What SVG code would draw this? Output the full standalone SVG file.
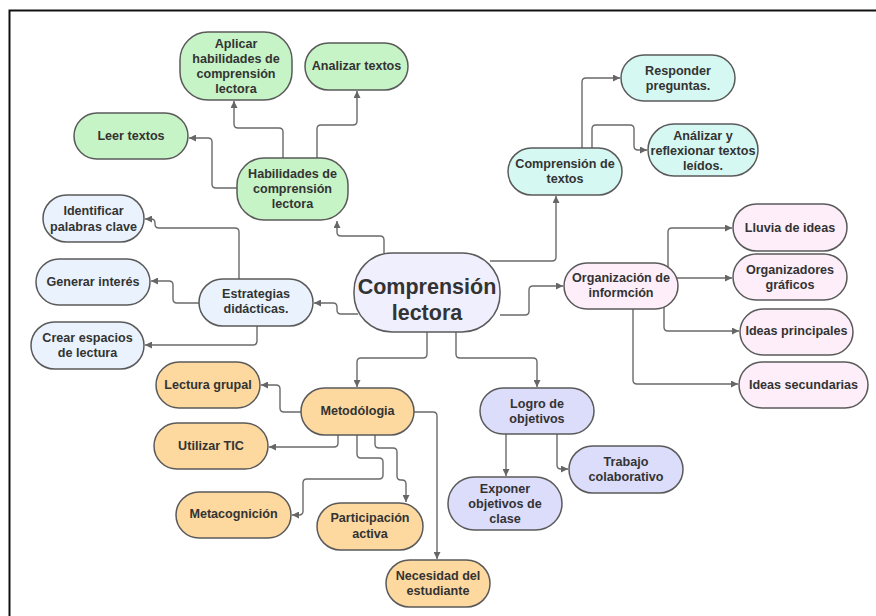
<svg xmlns="http://www.w3.org/2000/svg" width="876" height="616" viewBox="0 0 876 616">
<style>
.n{stroke:#5a5a5a;stroke-width:1.5}
.t{font-family:"Liberation Sans",Arial,sans-serif;font-weight:bold;font-size:12.6px;fill:#333;text-anchor:middle}
.big{font-size:21.5px}
.c{fill:none;stroke:#6a6a6a;stroke-width:1.4}
.g{fill:#c7f4c6}.tl{fill:#d6f8f2}.pk{fill:#fdeef9}.bl{fill:#eaf3fd}.ct{fill:#efeffd}.lv{fill:#dcdcfb}.or{fill:#fdd9a0}
</style>
<defs>
<marker id="a" viewBox="0 0 10 10" refX="10" refY="5" markerWidth="8" markerHeight="7" orient="auto" markerUnits="userSpaceOnUse"><path d="M0,0 L10,5 L0,10 z" fill="#666"/></marker>
</defs>
<rect width="876" height="616" fill="#fff"/>
<path d="M9.5,616 V10.5 H876" fill="none" stroke="#111" stroke-width="2"/>
<g id="connectors" class="c" marker-end="url(#a)">
<path d="M384,253 V240 Q384,236 380,236 H341 Q337,236 337,232 V221"/>
<path d="M358,314 H341 Q337,314 337,310 V307 Q337,303 333,303 H314"/>
<path d="M490,261 H552 Q556,261 556,257 V196"/>
<path d="M500,315 H525 Q529,315 529,311 V290 Q529,286 533,286 H563"/>
<path d="M427,332 V354 Q427,358 423,358 H361 Q357,358 357,362 V387"/>
<path d="M456,332 V354 Q456,358 460,358 H533 Q537,358 537,362 V387"/>
<path d="M237,188 H216 Q212,188 212,184 V142 Q212,138 208,138 H189"/>
<path d="M283,158 V132 Q283,128 279,128 H238 Q234,128 234,124 V101"/>
<path d="M317,158 V129 Q317,125 321,125 H353 Q357,125 357,121 V91"/>
<path d="M239,279 V232 Q239,228 235,228 H159 Q155,228 155,224 V223 Q155,219 151,219 H145"/>
<path d="M199,303 H177 Q173,303 173,299 V285 Q173,281 169,281 H151"/>
<path d="M257,326 V341 Q257,345 253,345 H145"/>
<path d="M582,148 V82 Q582,78 586,78 H620"/>
<path d="M592,148 V129 Q592,125 596,125 H630 Q634,125 634,129 V146 Q634,150 638,150 H647"/>
<path d="M668,267 V232 Q668,228 672,228 H732"/>
<path d="M677,278 H732"/>
<path d="M664,307 V327 Q664,331 668,331 H739"/>
<path d="M633,309 V380 Q633,384 637,384 H738"/>
<path d="M506,434 V476"/>
<path d="M557,434 V465 Q557,469 561,469 H568"/>
<path d="M301,412 H284 Q280,412 280,408 V389 Q280,385 276,385 H261"/>
<path d="M338,435 V443 Q338,447 334,447 H269"/>
<path d="M357,435 V454 Q357,458 361,458 H379 Q383,458 383,462 V475 Q383,479 379,479 H307 Q303,479 303,483 V511 Q303,515 299,515 H292"/>
<path d="M375,435 V444 Q375,448 379,448 H393 Q397,448 397,452 V476 Q397,480 401,480 H402 Q406,480 406,484 V502"/>
<path d="M414,412 H433 Q437,412 437,416 V559"/>
</g>
<g id="n-central"><rect class="n ct" x="354" y="253" width="146" height="79" rx="38"/><text class="t big" x="427" y="294">Comprensión</text><text class="t big" x="427" y="320">lectora</text></g>
<g id="n-aplicar"><rect class="n g" x="180" y="32" width="112" height="68" rx="28"/><text class="t" x="236" y="47.6">Aplicar</text><text class="t" x="236" y="62.9">habilidades de</text><text class="t" x="236" y="78.1">comprensión</text><text class="t" x="236" y="93.4">lectora</text></g>
<g id="n-analizar"><rect class="n g" x="305" y="43" width="103" height="47" rx="23.5"/><text class="t" x="356.5" y="69.5">Analizar textos</text></g>
<g id="n-leer"><rect class="n g" x="74" y="113" width="114" height="46" rx="23"/><text class="t" x="131" y="139.5">Leer textos</text></g>
<g id="n-habilidades"><rect class="n g" x="237" y="158" width="111" height="62" rx="27"/><text class="t" x="292.5" y="177.5">Habilidades de</text><text class="t" x="292.5" y="192.5">comprensión</text><text class="t" x="292.5" y="207.5">lectora</text></g>
<g id="n-identificar"><rect class="n bl" x="43" y="195" width="101" height="47" rx="23.5"/><text class="t" x="93.5" y="215">Identificar</text><text class="t" x="93.5" y="230.5">palabras clave</text></g>
<g id="n-generar"><rect class="n bl" x="36" y="259" width="114" height="46" rx="23"/><text class="t" x="93" y="285.5">Generar interés</text></g>
<g id="n-estrategias"><rect class="n bl" x="199" y="279" width="114" height="47" rx="23.5"/><text class="t" x="256" y="297.5">Estrategias</text><text class="t" x="256" y="313">didácticas.</text></g>
<g id="n-crear"><rect class="n bl" x="31" y="322" width="113" height="47" rx="23.5"/><text class="t" x="87.5" y="341.5">Crear espacios</text><text class="t" x="87.5" y="356.5">de lectura</text></g>
<g id="n-comptextos"><rect class="n tl" x="508" y="148" width="114" height="47" rx="23.5"/><text class="t" x="565" y="167.5">Comprensión de</text><text class="t" x="565" y="182.5">textos</text></g>
<g id="n-responder"><rect class="n tl" x="621" y="55" width="114" height="46" rx="23"/><text class="t" x="678" y="74.5">Responder</text><text class="t" x="678" y="89.5">preguntas.</text></g>
<g id="n-reflexionar"><rect class="n tl" x="648" y="124" width="110" height="52" rx="26"/><text class="t" x="703" y="139.5">Análizar y</text><text class="t" x="703" y="154.5">reflexionar textos</text><text class="t" x="703" y="169.5">leídos.</text></g>
<g id="n-lluvia"><rect class="n pk" x="733" y="204" width="114" height="47" rx="23.5"/><text class="t" x="790" y="231.5">Lluvia de ideas</text></g>
<g id="n-organizadores"><rect class="n pk" x="733" y="254" width="114" height="46" rx="23"/><text class="t" x="790" y="273.5">Organizadores</text><text class="t" x="790" y="288.5">gráficos</text></g>
<g id="n-organizacion"><rect class="n pk" x="564" y="263" width="114" height="46" rx="23"/><text class="t" x="621" y="281.5">Organización de</text><text class="t" x="621" y="296.5">informción</text></g>
<g id="n-principales"><rect class="n pk" x="740" y="309" width="113" height="46" rx="23"/><text class="t" x="796.5" y="334.5">Ideas principales</text></g>
<g id="n-secundarias"><rect class="n pk" x="739" y="362" width="129" height="46" rx="23"/><text class="t" x="803.5" y="388.5">Ideas secundarias</text></g>
<g id="n-logro"><rect class="n lv" x="480" y="388" width="114" height="46" rx="23"/><text class="t" x="537" y="407.5">Logro de</text><text class="t" x="537" y="422.5">objetivos</text></g>
<g id="n-trabajo"><rect class="n lv" x="569" y="446" width="114" height="47" rx="23.5"/><text class="t" x="626" y="465.5">Trabajo</text><text class="t" x="626" y="480.5">colaborativo</text></g>
<g id="n-exponer"><rect class="n lv" x="448" y="477" width="114" height="53" rx="26.5"/><text class="t" x="505" y="492.5">Exponer</text><text class="t" x="505" y="508">objetivos de</text><text class="t" x="505" y="523">clase</text></g>
<g id="n-metodologia"><rect class="n or" x="301" y="388" width="113" height="47" rx="23.5"/><text class="t" x="357.5" y="415">Metodólogia</text></g>
<g id="n-lectura"><rect class="n or" x="156" y="362" width="104" height="46" rx="23"/><text class="t" x="208" y="388.5">Lectura grupal</text></g>
<g id="n-tic"><rect class="n or" x="154" y="423" width="114" height="46" rx="23"/><text class="t" x="211" y="449.5">Utilizar TIC</text></g>
<g id="n-metacognicion"><rect class="n or" x="176" y="492" width="115" height="46" rx="23"/><text class="t" x="233.5" y="517.5">Metacognición</text></g>
<g id="n-participacion"><rect class="n or" x="317" y="503" width="106" height="47" rx="23.5"/><text class="t" x="370" y="521.5">Participación</text><text class="t" x="370" y="537.5">activa</text></g>
<g id="n-necesidad"><rect class="n or" x="386" y="560" width="104" height="47" rx="23.5"/><text class="t" x="438" y="579.5">Necesidad del</text><text class="t" x="438" y="594.5">estudiante</text></g>
</svg>
